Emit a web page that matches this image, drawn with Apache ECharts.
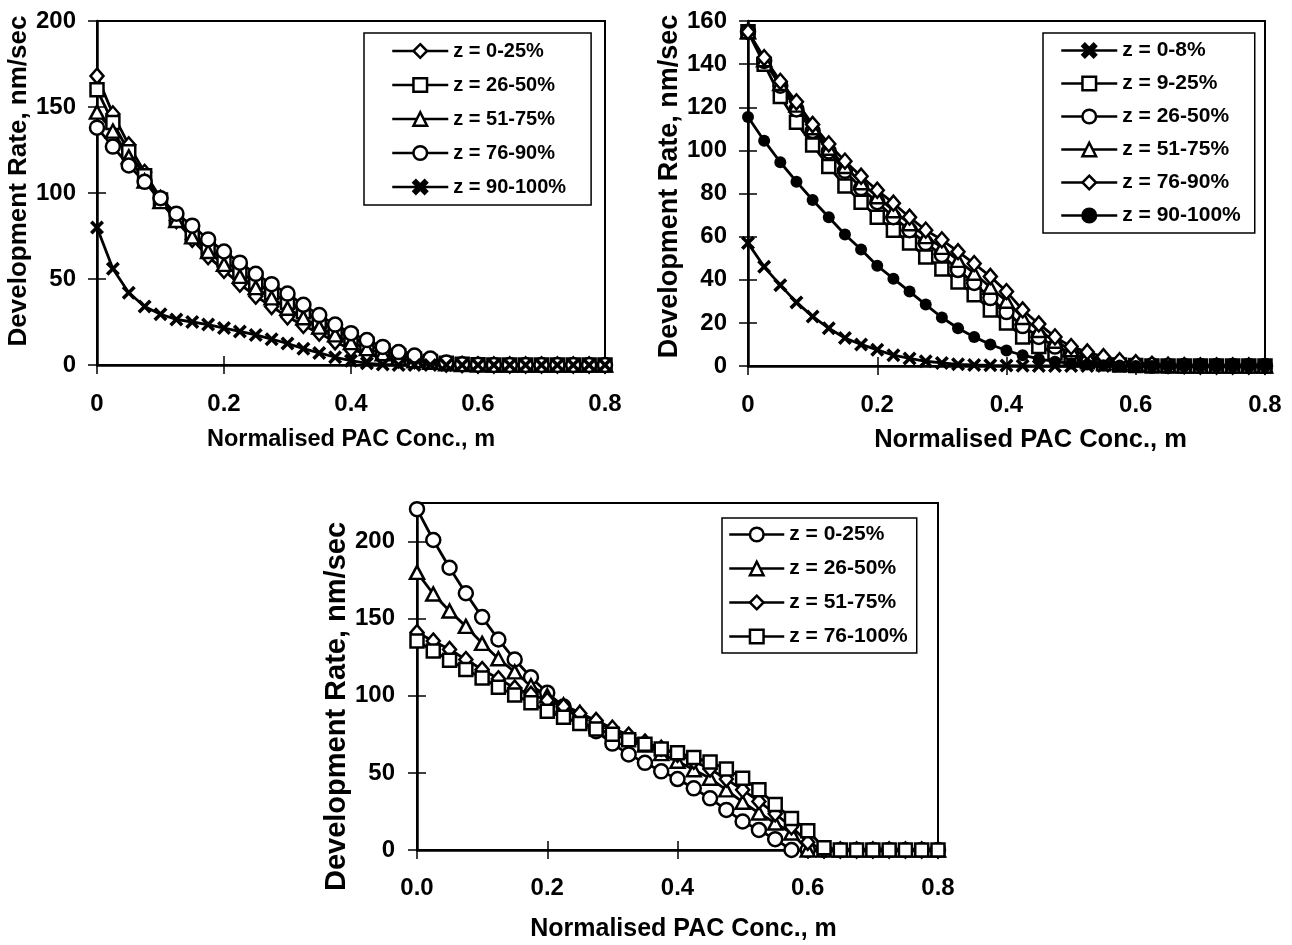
<!DOCTYPE html>
<html><head><meta charset="utf-8">
<script src="https://cdn.jsdelivr.net/npm/echarts@6/dist/echarts.min.js"></script>
<style>html,body{margin:0;padding:0;background:#fff;width:1292px;height:945px;overflow:hidden}
.c{position:absolute;left:0;top:0;width:1292px;height:945px;}</style>
</head><body>
<div id="c1" class="c"></div><div id="c2" class="c"></div><div id="c3" class="c"></div>
<script>
// ---------- DATA ----------
const xConc = [0,0.025,0.05,0.075,0.1,0.125,0.15,0.175,0.2,0.225,0.25,0.275,0.3,0.325,0.35,0.375,0.4,
  0.425,0.45,0.475,0.5,0.525,0.55,0.575,0.6,0.625,0.65,0.675,0.7,0.725,0.75,0.775,0.8];

const xTicks12 = ['0','0.2','0.4','0.6','0.8'];
const xTicks3 = ['0.0','0.2','0.4','0.6','0.8'];

// Chart 1 (top-left)
const c1Names = ['z = 0-25%','z = 26-50%','z = 51-75%','z = 76-90%','z = 90-100%'];
const c1_z0_25 = [168,146,128,112,97,84,73,63,55,47,40,34,28,23,18.5,13.5,9,6.5,4,3,2.5,2.5,0.5,0.3,0,0,0,0,0,0,0,0,0];
const c1_z26_50 = [160,141,124,110,96,85,76,68,61,54,48,42,36.5,31,25.5,20.5,16,12,8.5,5.5,3.5,2,1,0.5,0.2,0,0,0,0,0,0,0,0];
const c1_z51_75 = [147,136,121,107,95,84,74.5,66,58.5,51.5,45,39,33,27.5,22,17.5,13,9.5,6.5,4,2.5,1.5,0.7,0.3,0.1,0,0,0,0,0,0,0,0];
const c1_z76_90 = [138,127,116,106.5,97,88,81,73,66,59.5,53,47,41.5,35,29,23.5,18.5,14.5,10.5,7.5,5.5,3.8,1.5,0.5,0.2,0,0,0,0,0,0,0,0];
const c1_z90_100 = [80,56,42,34,29.5,26.5,25,23.5,21.5,19.5,17.5,15,12.5,9.5,7,4.5,2.5,1,0.3,0,0,0,0,0,0,0,0,0,0,0,0,0,0];

// Chart 2 (top-right)
const c2Names = ['z = 0-8%','z = 9-25%','z = 26-50%','z = 51-75%','z = 76-90%','z = 90-100%'];
const c2_z0_8 = [57,46,37.5,29.5,23,17.5,13,10,7.5,5,3.5,2.2,1.4,0.8,0.5,0.3,0.2,0.1,0,0,0,0,0,0,0,0,0,0,0,0,0,0,0];
const c2_z9_25 = [155,140,125,113,102.5,92.5,83.5,76,69,63,57,50.5,45,39,33,26,20,13.5,9,6,3.5,2,1,0.5,0.2,0,0,0,0,0,0,0,0];
const c2_z26_50 = [155,141.5,130,119,109,99.5,90.5,82.5,76,69,63,57,51.5,44.5,38.5,31.5,25,18.5,13.5,9,6,3.5,2,1,0.5,0.2,0,0,0,0,0,0,0];
const c2_z51_75 = [155,142,131,121,110.5,101,92.5,85,78.5,72,66,60,55,49,43,36.5,30,22.5,16.5,11.5,7.5,5,3,1.5,0.8,0.4,0.2,0,0,0,0,0,0];
const c2_z76_90 = [155,143,132,122.5,112,103,95,88,81.5,75.5,69,63,58.5,53,47.5,41.5,34.5,26,19.5,13.5,9,6.5,4.3,2.5,1.5,0.8,0.4,0.2,0,0,0,0,0];
const c2_z90_100 = [115.5,104.5,94.5,85.5,77,69,61,54,46.5,40.5,34.5,28.5,22.5,17.5,13.5,10,7.2,5,3.3,2,1.2,0.7,0.4,0.2,0,0,0,0,0,0,0,0,0];

// Chart 3 (bottom)
const c3Names = ['z = 0-25%','z = 26-50%','z = 51-75%','z = 76-100%'];
const c3_z0_25 = [221,201,183,166.5,151,136.5,123.5,112,102,93,85,77,69,62,56.5,51,46,40,33.5,26,18.5,13,7,0,0,0,0,0,0,0,0,0,0];
const c3_z26_50 = [180,166,155,145,134,124,115.5,106.5,100,94,89,83.5,78,73,68,62.5,57.5,52,46.5,39,31,24,17.5,11,0,0,0,0,0,0,0,0,0];
const c3_z51_75 = [141,135.5,130,123.5,117,111,105,101,97,93,88.5,84,79,74.5,70,66,62,57.5,52.5,46,39,31.5,23.5,15,5,0,0,0,0,0,0,0,0];
const c3_z76_100 = [135.5,129,123,117,111.5,105.5,100.5,95.5,90,86,82,78.5,75,71.5,68.5,65.5,63,60,57,52.5,46.5,39,29.5,20.5,12.5,1.5,0,0,0,0,0,0,0];

const xTitle = 'Normalised PAC Conc., m';
const yTitle = 'Development Rate, nm/sec';

// ---------- STYLE ----------
const FONT = "'Liberation Sans', Arial, sans-serif";
const XPATH = 'path://M0,1.8L1.8,0L5,3.2L8.2,0L10,1.8L6.8,5L10,8.2L8.2,10L5,6.8L1.8,10L0,8.2L3.2,5Z';
const MARK = {
  diamond: {symbol:'diamond', size:[13,15], fill:'#fff', bw:2.5},
  square: {symbol:'rect', size:13, fill:'#fff', bw:2.5},
  triangle: {symbol:'triangle', size:[14,13], fill:'#fff', bw:2.5},
  circle: {symbol:'circle', size:14, fill:'#fff', bw:2.5},
  dot: {symbol:'circle', size:12, fill:'#000', bw:0},
  cross: {symbol:XPATH, size:14, fill:'#000', bw:0}
};

function mkSeries(name, values, mk) {
  const m = MARK[mk];
  return {
    type:'line', name, data: xConc.map((x,i)=>[x, values[i]]),
    symbol:m.symbol, symbolSize:m.size, showAllSymbol:true,
    lineStyle:{color:'#000', width:2.8},
    itemStyle:{color:m.fill, borderColor:'#000', borderWidth:m.bw},
    emphasis:{disabled:true}, silent:true, animation:false, clip:false
  };
}

function mkOption(cfg) {
  const grid = {left:cfg.grid[0], top:cfg.grid[1], width:cfg.grid[2], height:cfg.grid[3],
    show:true, borderColor:'#000', borderWidth:2, containLabel:false};
  const common = {type:'value', min:0, splitLine:{show:false}};
  const xMain = Object.assign({}, common, {
    max:0.8, interval:0.2, position:'bottom',
    axisLine:{show:true, onZero:false, lineStyle:{color:'#000', width:2.5}},
    axisTick:{show:true, length:9, lineStyle:{color:'#000', width:1.5}},
    axisLabel:{color:'#000', fontSize:cfg.tickFs, fontWeight:'bold', fontFamily:FONT, margin:cfg.xMargin,
      formatter:(v)=>cfg.xTicks[Math.round(v/0.2)]},
    name:xTitle, nameLocation:'middle', nameGap:cfg.xNameGap,
    nameTextStyle:{color:'#000', fontSize:cfg.xNameFs, fontWeight:'bold', fontFamily:FONT, padding:cfg.xNamePad}
  });
  const xDup = Object.assign({}, common, {
    max:0.8, interval:0.2, position:'bottom',
    axisLine:{show:false}, axisTick:{show:true, inside:true, length:9, lineStyle:{color:'#000', width:1.5}},
    axisLabel:{show:false}
  });
  const yMain = Object.assign({}, common, {
    max:cfg.yMax, interval:cfg.yInt, position:'left',
    axisLine:{show:true, onZero:false, lineStyle:{color:'#000', width:2.5}},
    axisTick:{show:true, length:9, lineStyle:{color:'#000', width:1.5}},
    axisLabel:{color:'#000', fontSize:cfg.tickFs, fontWeight:'bold', fontFamily:FONT, margin:cfg.yMargin, showMaxLabel:cfg.showMax},
    name:yTitle, nameLocation:'middle', nameGap:cfg.yNameGap,
    nameTextStyle:{color:'#000', fontSize:cfg.yNameFs, fontWeight:'bold', fontFamily:FONT, padding:cfg.yNamePad}
  });
  const yDup = Object.assign({}, common, {
    max:cfg.yMax, interval:cfg.yInt, position:'left',
    axisLine:{show:false}, axisTick:{show:true, inside:true, length:9, lineStyle:{color:'#000', width:1.5}},
    axisLabel:{show:false}
  });
  return {
    backgroundColor:'transparent', animation:false,
    grid:[grid],
    xAxis:[xMain, xDup], yAxis:[yMain, yDup],
    legend:{
      orient:'vertical', left:cfg.leg.left, top:cfg.leg.top,
      backgroundColor:'#fff', borderColor:'#000', borderWidth:1.5,
      padding:cfg.leg.padding, itemGap:cfg.leg.gap, itemWidth:cfg.leg.iw, itemHeight:17,
      lineStyle:{color:'#000', width:2.5},
      itemStyle:{borderWidth:2.5},
      textStyle:{color:'#000', fontSize:cfg.leg.fs, fontWeight:'bold', fontFamily:FONT, lineHeight:20},
      selectedMode:false, data:cfg.names
    },
    series: cfg.series
  };
}

const opt1 = mkOption({
  grid:[97,21,508,344], yMax:200, yInt:50, showMax:true, xTicks:xTicks12,
  tickFs:24, xMargin:27, yMargin:21, xNameGap:63, yNameGap:51, xNameFs:23.5, yNameFs:26,
  xNamePad:[0,0,0,0], yNamePad:[0,0,0,24],
  names:c1Names,
  leg:{left:364, top:33, padding:[8,25,8,27], gap:14, iw:56, fs:20},
  series:[
    mkSeries(c1Names[0], c1_z0_25, 'diamond'),
    mkSeries(c1Names[1], c1_z26_50, 'square'),
    mkSeries(c1Names[2], c1_z51_75, 'triangle'),
    mkSeries(c1Names[3], c1_z76_90, 'circle'),
    mkSeries(c1Names[4], c1_z90_100, 'cross')
  ]
});
const opt2 = mkOption({
  grid:[748,21,517,345], yMax:160, yInt:20, showMax:true, xTicks:xTicks12,
  tickFs:24, xMargin:27, yMargin:21, xNameGap:61, yNameGap:51, xNameFs:25.5, yNameFs:27,
  xNamePad:[0,0,0,48], yNamePad:[0,0,0,14],
  names:c2Names,
  leg:{left:1043, top:33, padding:[7,14,7,17], gap:12, iw:56, fs:21},
  series:[
    mkSeries(c2Names[0], c2_z0_8, 'cross'),
    mkSeries(c2Names[1], c2_z9_25, 'square'),
    mkSeries(c2Names[2], c2_z26_50, 'circle'),
    mkSeries(c2Names[3], c2_z51_75, 'triangle'),
    mkSeries(c2Names[4], c2_z76_90, 'diamond'),
    mkSeries(c2Names[5], c2_z90_100, 'dot')
  ]
});
const opt3 = mkOption({
  grid:[417,503,521,347], yMax:225, yInt:50, showMax:false, xTicks:xTicks3,
  tickFs:24, xMargin:26, yMargin:22, xNameGap:67, yNameGap:47, xNameFs:25, yNameFs:29,
  xNamePad:[0,0,0,12], yNamePad:[0,60,0,0],
  names:c3Names,
  leg:{left:722, top:518, padding:[6,9,6,6], gap:13, iw:55, fs:21},
  series:[
    mkSeries(c3Names[0], c3_z0_25, 'circle'),
    mkSeries(c3Names[1], c3_z26_50, 'triangle'),
    mkSeries(c3Names[2], c3_z51_75, 'diamond'),
    mkSeries(c3Names[3], c3_z76_100, 'square')
  ]
});

[['c1',opt1],['c2',opt2],['c3',opt3]].forEach(([id,o])=>{
  const ch = echarts.init(document.getElementById(id), null, {renderer:'canvas'});
  ch.setOption(o);
});
</script>
</body></html>
